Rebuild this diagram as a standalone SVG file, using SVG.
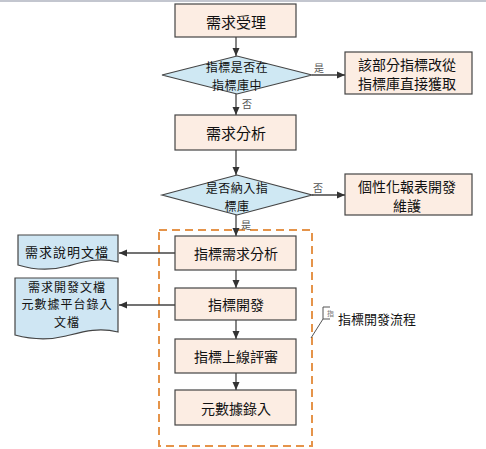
<svg xmlns="http://www.w3.org/2000/svg" width="486" height="449" viewBox="0 0 486 449">
<defs>
<marker id="ah" viewBox="0 0 8 8" refX="8" refY="4" markerWidth="8" markerHeight="8" markerUnits="userSpaceOnUse" orient="auto">
<path d="M0,0.5 L8,4 L0,7.5 Z" fill="#333"/>
</marker>
<style>
.box{fill:#fcede3;stroke:#444;stroke-width:1.2}
.dia{fill:#cfe8f3;stroke:#444;stroke-width:1.2}
.doc{fill:#cfe6f3;stroke:#444;stroke-width:1.2}
.t{font-family:"Noto Sans CJK TC","Noto Sans CJK SC",sans-serif;fill:#111;text-anchor:middle;dominant-baseline:central}
.t15{font-size:15px}
.t14{font-size:14px}
.t13{font-size:13px}
.t12{font-size:12px;letter-spacing:0.5px}
.lbl{font-family:"Noto Sans CJK TC",serif;font-size:10px;fill:#555;dominant-baseline:central}
.c{fill:none;stroke:#444;stroke-width:1.3}
</style>
</defs>
<rect x="0" y="0" width="486" height="2" fill="#c3c6cf"/>
<g id="group-dev">
<rect x="159" y="230" width="153" height="216" fill="none" stroke="#e5944a" stroke-width="2" stroke-dasharray="8,5"/>
</g>
<g id="connectors">
<line class="c" x1="236" y1="37" x2="236" y2="56" marker-end="url(#ah)"/>
<line class="c" x1="312" y1="75" x2="345" y2="75" marker-end="url(#ah)"/>
<text class="lbl" x="314" y="67">是</text>
<line class="c" x1="236" y1="94" x2="236" y2="115" marker-end="url(#ah)"/>
<text class="lbl" x="242" y="103">否</text>
<line class="c" x1="236" y1="150" x2="236" y2="175" marker-end="url(#ah)"/>
<line class="c" x1="312" y1="195" x2="345" y2="195" marker-end="url(#ah)"/>
<text class="lbl" x="313" y="187">否</text>
<line class="c" x1="236" y1="215" x2="236" y2="236" marker-end="url(#ah)"/>
<text class="lbl" x="241" y="224">是</text>
<line class="c" x1="236" y1="270" x2="236" y2="288" marker-end="url(#ah)"/>
<line class="c" x1="236" y1="320" x2="236" y2="339" marker-end="url(#ah)"/>
<line class="c" x1="236" y1="373" x2="236" y2="390" marker-end="url(#ah)"/>
<line class="c" x1="175" y1="253" x2="119" y2="253" marker-end="url(#ah)"/>
<line class="c" x1="175" y1="305" x2="119" y2="305" marker-end="url(#ah)"/>
</g>
<g id="n-receive">
<rect class="box" x="175" y="4" width="121" height="33"/>
<text class="t t15" x="236" y="21">需求受理</text>
</g>
<g id="n-in-lib">
<polygon class="dia" points="162,75 237,56 312,75 237,94"/>
<text class="t t12" x="237" y="66">指標是否在</text>
<text class="t t12" x="237" y="84">指標庫中</text>
</g>
<g id="n-fetch">
<rect class="box" x="345" y="52" width="127" height="42"/>
<text class="t t14" x="407" y="64">該部分指標改從</text>
<text class="t t14" x="407" y="83">指標庫直接獲取</text>
</g>
<g id="n-analysis">
<rect class="box" x="175" y="115" width="121" height="35"/>
<text class="t t15" x="236" y="132">需求分析</text>
</g>
<g id="n-include">
<polygon class="dia" points="162,195 237,175 312,195 237,215"/>
<text class="t t12" x="237" y="187.5">是否納入指</text>
<text class="t t12" x="237" y="205.5">標庫</text>
</g>
<g id="n-custom">
<rect class="box" x="345" y="174" width="127" height="41"/>
<text class="t t14" x="407" y="186">個性化報表開發</text>
<text class="t t14" x="407" y="205">維護</text>
</g>
<g id="n-idx-analysis">
<rect class="box" x="175" y="236" width="121" height="34"/>
<text class="t t14" x="236" y="253">指標需求分析</text>
</g>
<g id="n-idx-dev">
<rect class="box" x="175" y="288" width="121" height="32"/>
<text class="t t14" x="236" y="304">指標開發</text>
</g>
<g id="n-idx-review">
<rect class="box" x="175" y="339" width="121" height="34"/>
<text class="t t14" x="236" y="356">指標上線評審</text>
</g>
<g id="n-meta">
<rect class="box" x="175" y="390" width="121" height="35"/>
<text class="t t14" x="236" y="408">元數據錄入</text>
</g>
<g id="n-doc1">
<path class="doc" d="M18,235 H118 V262 C98,257 82,262 68,266 C50,271 34,270 18,265 Z"/>
<text class="t t13" x="67" y="251" letter-spacing="1">需求說明文檔</text>
</g>
<g id="n-doc2">
<path class="doc" d="M15,278 H118 V332 C98,327 82,332 66,336 C46,341 30,339 15,335 Z"/>
<text class="t" font-size="12" x="67" y="286" letter-spacing="1">需求開發文檔</text>
<text class="t" font-size="12" x="67" y="303.5" letter-spacing="1">元數據平台錄入</text>
<text class="t" font-size="12" x="67" y="321" letter-spacing="1">文檔</text>
</g>
<g id="callout">
<path d="M330,307 H323 V319 H330" fill="none" stroke="#555" stroke-width="1"/>
<line x1="323" y1="319" x2="311" y2="338" stroke="#555" stroke-width="1"/>
<text x="327" y="313" font-family="Noto Sans CJK TC,sans-serif" font-size="7" fill="#777" dominant-baseline="central">指</text>
<text class="t t13" x="338" y="318" style="text-anchor:start">指標開發流程</text>
</g>
</svg>
